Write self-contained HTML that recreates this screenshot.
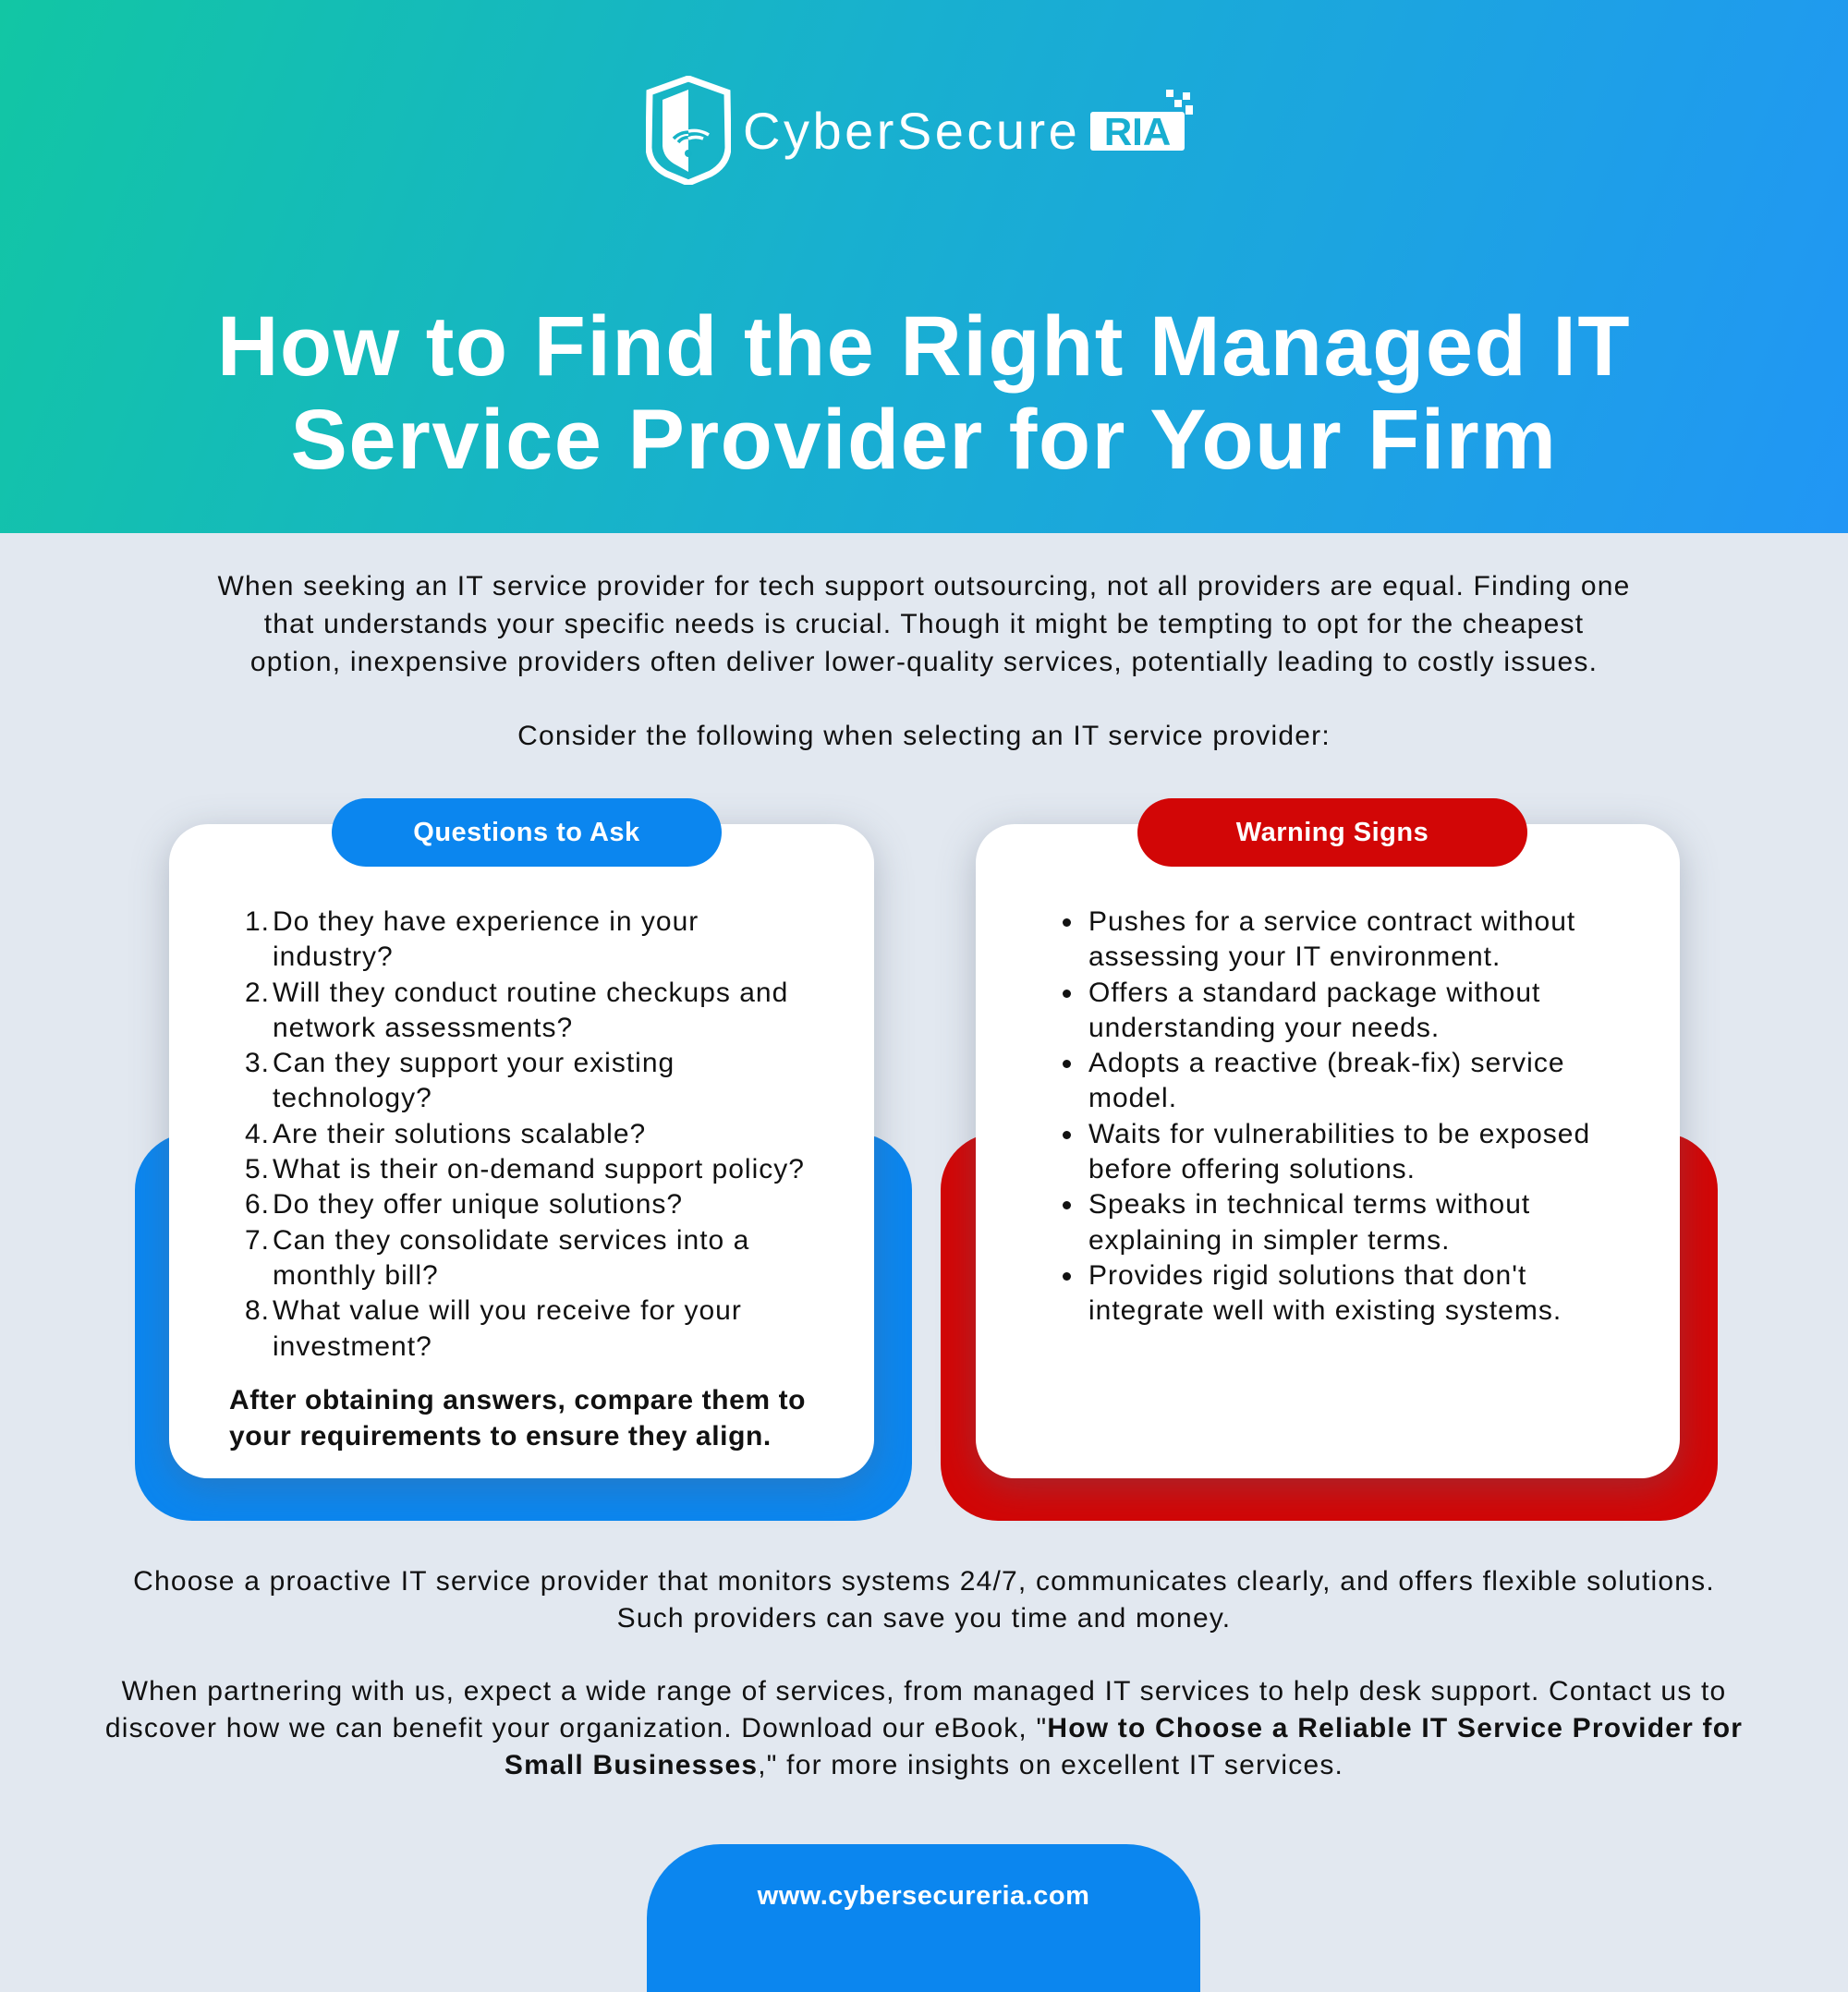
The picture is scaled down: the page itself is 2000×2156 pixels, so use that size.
<!DOCTYPE html>
<html><head><meta charset="utf-8"><style>
*{margin:0;padding:0;box-sizing:border-box}
body{width:2000px;height:2100px;overflow:hidden;background:#e2e8f0;font-family:"Liberation Sans",sans-serif;color:#111;position:relative}
.hdr{position:absolute;left:0;top:0;width:2000px;height:577px;background:linear-gradient(110deg,#12c6a4 0%,#18b0cf 45%,#2196f5 100%)}
.abs{position:absolute}
.title{position:absolute;left:0;width:2000px;text-align:center;color:#fff;font-weight:bold;font-size:92px;line-height:101px;top:325px;letter-spacing:1.5px}
.txt{position:absolute;left:0;width:2000px;text-align:center;font-size:30px;line-height:40px;color:#111;letter-spacing:1.2px}
.back{position:absolute;border-radius:62px}
.card{position:absolute;background:#fff;border-radius:42px;box-shadow:0 10px 40px rgba(90,100,120,.35)}
.pill{position:absolute;height:74px;border-radius:37px;color:#fff;font-weight:bold;font-size:29px;line-height:74px;text-align:center;letter-spacing:0.5px}
.list{position:absolute;font-size:30px;line-height:38.3px;letter-spacing:1px}
.list div{position:relative}
.num{position:absolute;left:-30px}
.dot{position:absolute;left:-28px;top:15px;width:9px;height:9px;border-radius:50%;background:#111}
</style></head><body>
<div class="hdr"></div>
<svg class="abs" style="left:699px;top:82px" width="92" height="118" viewBox="0 0 92 118">
<path d="M46 3 L88 18 L89 78 Q88 96 70 106 L46 116 L22 106 Q4 96 3 78 L4 18 Z" fill="none" stroke="#fff" stroke-width="7"/>
<path d="M46 15 L18 26 L18 76 Q19 88 30 95 L46 104 Z" fill="#fff"/>
<path d="M30 68 A22 22 0 0 1 62 68 M35 72 A14 14 0 0 1 57 72" fill="none" stroke="#16b3c6" stroke-width="3.5"/>
<path d="M46 68 A22 22 0 0 1 62 68 M46 60 A30 30 0 0 1 68 64" fill="none" stroke="#fff" stroke-width="3.5"/>
<circle cx="46" cy="84" r="4" fill="#16b3c6"/>
</svg>
<div class="abs" style="left:804px;top:112px;color:#fff;font-size:56px;line-height:60px;letter-spacing:3.5px">CyberSecure</div>
<div class="abs" style="left:1180px;top:121px;width:102px;height:42px;background:#fff;border-radius:3px;color:#18aed0;font-weight:bold;font-size:42px;line-height:44px;text-align:center">RIA</div>
<div class="abs" style="left:1262px;top:97px;width:8px;height:8px;background:#fff"></div>
<div class="abs" style="left:1280px;top:100px;width:8px;height:8px;background:#fff"></div>
<div class="abs" style="left:1271px;top:108px;width:8px;height:8px;background:#fff"></div>
<div class="abs" style="left:1283px;top:114px;width:8px;height:10px;background:#fff"></div>
<div class="title">How to Find the Right Managed IT<br>Service Provider for Your Firm</div>
<div class="txt" style="top:614px;line-height:41px">When seeking an IT service provider for tech support outsourcing, not all providers are equal. Finding one<br>that understands your specific needs is crucial. Though it might be tempting to opt for the cheapest<br>option, inexpensive providers often deliver lower-quality services, potentially leading to costly issues.</div>
<div class="txt" style="top:777px">Consider the following when selecting an IT service provider:</div>

<div class="back" style="left:146px;top:1226px;width:841px;height:420px;background:#0b86ef"></div>
<div class="back" style="left:1018px;top:1226px;width:841px;height:420px;background:#d20606"></div>
<div class="card" style="left:183px;top:892px;width:763px;height:708px"></div>
<div class="card" style="left:1056px;top:892px;width:762px;height:708px"></div>
<div class="pill" style="left:359px;top:864px;width:422px;background:#0b86ef">Questions to Ask</div>
<div class="pill" style="left:1231px;top:864px;width:422px;background:#d20606">Warning Signs</div>

<div class="list" style="left:295px;top:979px">
<div><span class="num">1.</span>Do they have experience in your<br>industry?</div>
<div><span class="num">2.</span>Will they conduct routine checkups and<br>network assessments?</div>
<div><span class="num">3.</span>Can they support your existing<br>technology?</div>
<div><span class="num">4.</span>Are their solutions scalable?</div>
<div><span class="num">5.</span>What is their on-demand support policy?</div>
<div><span class="num">6.</span>Do they offer unique solutions?</div>
<div><span class="num">7.</span>Can they consolidate services into a<br>monthly bill?</div>
<div><span class="num">8.</span>What value will you receive for your<br>investment?</div>
</div>
<div class="list" style="left:248px;top:1496px;font-weight:bold;line-height:39px;letter-spacing:0.6px">After obtaining answers, compare them to<br>your requirements to ensure they align.</div>

<div class="list" style="left:1178px;top:979px">
<div><span class="dot"></span>Pushes for a service contract without<br>assessing your IT environment.</div>
<div><span class="dot"></span>Offers a standard package without<br>understanding your needs.</div>
<div><span class="dot"></span>Adopts a reactive (break-fix) service<br>model.</div>
<div><span class="dot"></span>Waits for vulnerabilities to be exposed<br>before offering solutions.</div>
<div><span class="dot"></span>Speaks in technical terms without<br>explaining in simpler terms.</div>
<div><span class="dot"></span>Provides rigid solutions that don't<br>integrate well with existing systems.</div>
</div>

<div class="txt" style="top:1692px">Choose a proactive IT service provider that monitors systems 24/7, communicates clearly, and offers flexible solutions.<br>Such providers can save you time and money.</div>
<div class="txt" style="top:1811px">When partnering with us, expect a wide range of services, from managed IT services to help desk support. Contact us to<br>discover how we can benefit your organization. Download our eBook, "<b>How to Choose a Reliable IT Service Provider for<br>Small Businesses</b>," for more insights on excellent IT services.</div>

<div class="abs" style="left:700px;top:1996px;width:599px;height:160px;background:#0b86ef;border-radius:80px 80px 0 0;color:#fff;font-weight:bold;font-size:29px;text-align:center;line-height:40px;padding-top:36px;letter-spacing:0.5px">www.cybersecureria.com</div>
</body></html>
